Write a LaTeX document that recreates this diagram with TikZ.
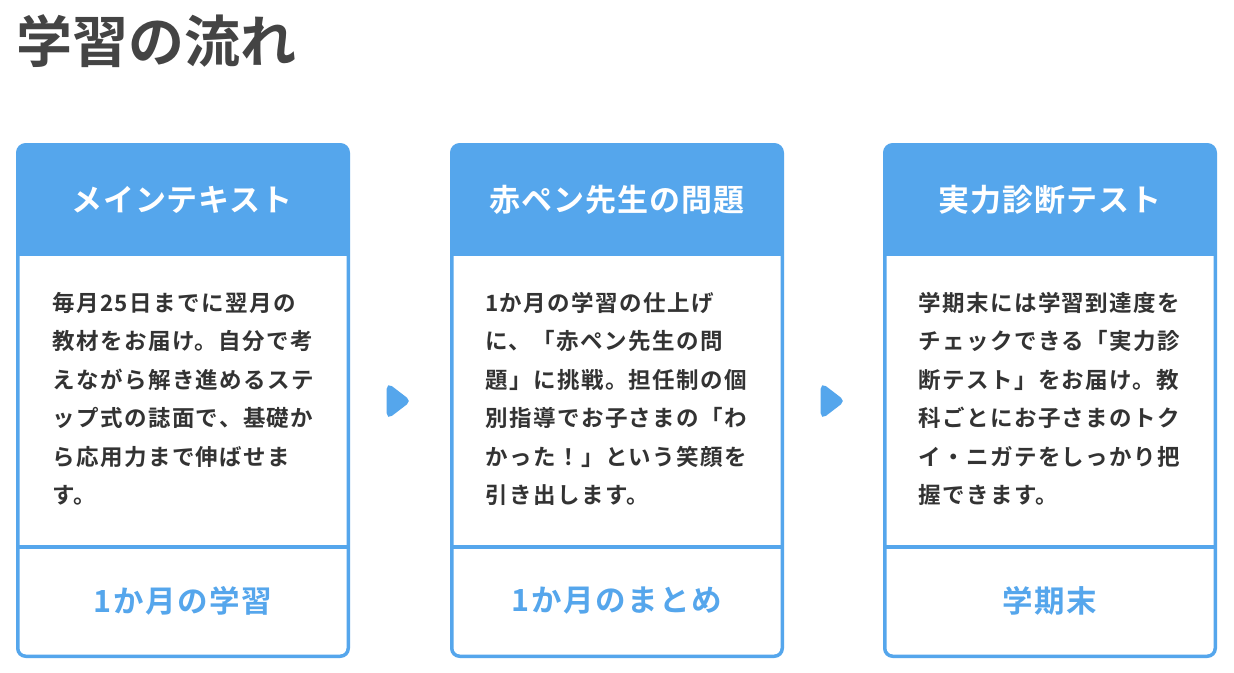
\documentclass[tikz,border=0pt]{standalone}
\usepackage{fontspec}
\setmainfont{Noto Sans CJK JP}[BoldFont={Noto Sans CJK JP Bold}]
\usetikzlibrary{shapes.geometric}
\definecolor{cardblue}{RGB}{85,166,236}
\definecolor{bodytext}{RGB}{51,51,51}
\definecolor{titletext}{RGB}{68,68,68}
\tikzset{
  cardframe/.style={draw=cardblue, line width=3.5pt, rounded corners=8pt},
  headtext/.style={text=white, font=\bfseries\fontsize{31}{36}\selectfont\addfontfeature{LetterSpace=3}, inner sep=0pt},
  foottext/.style={text=cardblue, font=\bfseries\fontsize{30.5}{36}\selectfont\addfontfeature{LetterSpace=5}, inner sep=0pt},
  bodytxt/.style={text=bodytext, font=\bfseries\fontsize{22.5}{38.5}\selectfont\addfontfeature{LetterSpace=6.5}, align=left, inner sep=0pt, anchor=north west},
  flowarrow/.style={isosceles triangle, isosceles triangle apex angle=75, fill=cardblue, draw=cardblue, line width=3.5pt, rounded corners=3.5pt, inner sep=0pt, minimum width=23pt, minimum height=20pt}
}
\begin{document}
\begin{tikzpicture}[x=1pt,y=-1pt]
\useasboundingbox[fill=white] (0,0) rectangle (1234,672);
\node[text=titletext, font=\bfseries\fontsize{56}{60}\selectfont, inner sep=0pt, anchor=west] (title) at (16,41) {学習の流れ};

% cards
\foreach \L/\n in {16/1, 450/2, 883/3}{
  \begin{scope}
    \clip[rounded corners=8pt] (\L+1.75,144.75) rectangle (\L+332.25,656.25);
    \fill[white] (\L,143) rectangle (\L+334,658);
    \fill[cardblue] (\L,143) rectangle (\L+334,256);
  \end{scope}
  \draw[cardframe] (\L+1.75,144.75) rectangle (\L+332.25,656.25);
  \draw[draw=cardblue, line width=3.5pt] (\L,547) -- (\L+334,547);
}

\node[headtext] (h1) at (182,200) {メインテキスト};
\node[headtext] (h2) at (617,200) {赤ペン先生の問題};
\node[headtext] (h3) at (1050,200) {実力診断テスト};

\node[bodytxt] (b1) at (52,292) {毎月25日までに翌月の\\教材をお届け。自分で考\\えながら解き進めるステ\\ップ式の誌面で、基礎か\\ら応用力まで伸ばせま\\す。};
\node[bodytxt] (b2) at (485,292) {1か月の学習の仕上げ\\に、「赤ペン先生の問\\題」に挑戦。担任制の個\\別指導でお子さまの「わ\\かった！」という笑顔を\\引き出します。};
\node[bodytxt] (b3) at (918,292) {学期末には学習到達度を\\チェックできる「実力診\\断テスト」をお届け。教\\科ごとにお子さまのトク\\イ・ニガテをしっかり把\\握できます。};

\node[foottext] (f1) at (183,601) {1か月の学習};
\node[foottext] (f2) at (617,601) {1か月のまとめ};
\node[foottext] (f3) at (1050,601) {学期末};

\node[flowarrow] (a1) at (396,401) {};
\node[flowarrow] (a2) at (830,401) {};
\end{tikzpicture}
\end{document}
